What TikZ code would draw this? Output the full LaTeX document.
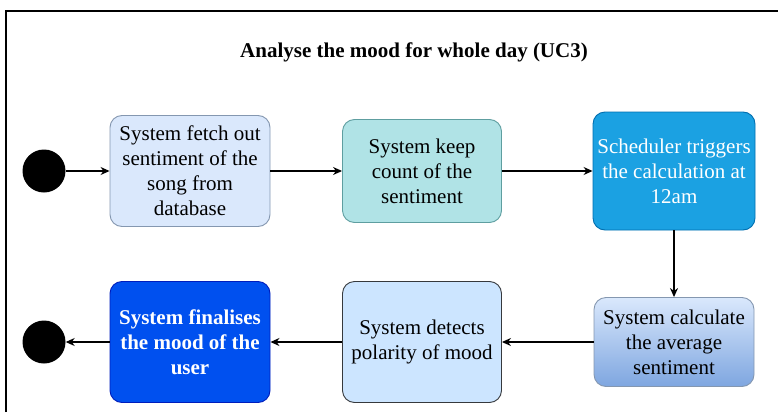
\documentclass[tikz,border=0pt]{standalone}
\usepackage{fontspec}
\setmainfont{Liberation Serif}
\usetikzlibrary{arrows.meta}

\definecolor{lblue}{HTML}{DAE8FC}
\definecolor{lbluedraw}{HTML}{8497B0}
\definecolor{teal1}{HTML}{B0E3E6}
\definecolor{teal1draw}{HTML}{5E9EA0}
\definecolor{sky}{HTML}{1BA1E2}
\definecolor{skydraw}{HTML}{006EAF}
\definecolor{grad}{HTML}{7EA6E0}
\definecolor{pale}{HTML}{CCE5FF}
\definecolor{paledraw}{HTML}{36393D}
\definecolor{royal}{HTML}{0050EF}
\definecolor{royaldraw}{HTML}{001DBC}

\begin{document}
\begin{tikzpicture}[x=1pt, y=-1pt,
  act/.style={draw, rounded corners=12pt, line width=0.9pt, align=center,
    font=\fontsize{21}{25}\selectfont, inner sep=0pt},
  dot/.style={circle, fill=black, minimum size=43pt, inner sep=0pt},
  flow/.style={line width=1.2pt, -{Stealth[length=9pt, width=8pt]}}]
\useasboundingbox (0,0) rectangle (778,412);

%frame
\draw[line width=1.5pt] (6,412) -- (6,11) -- (778,11);

%title
\node[font=\fontsize{21}{25}\selectfont\bfseries] (title) at (414,52) {Analyse the mood for whole day (UC3)};

%top row
\node[dot] (start) at (44,171) {};
\node[act, fill=lblue, draw=lbluedraw, minimum width=160pt, minimum height=111pt] (fetch) at (190,171)
  {System fetch out\\sentiment of the\\song from\\database};
\node[act, fill=teal1, draw=teal1draw, minimum width=159pt, minimum height=103pt] (count) at (422,171)
  {System keep\\count of the\\sentiment};
\node[act, fill=sky, draw=skydraw, text=white, minimum width=162pt, minimum height=118pt] (sched) at (674,171)
  {Scheduler triggers\\the calculation at\\12am};

%bottom row
\node[act, top color=lblue, bottom color=grad, draw=lbluedraw, minimum width=160pt, minimum height=89pt] (avg) at (674,342)
  {System calculate\\the average\\sentiment};
\node[act, fill=pale, draw=paledraw, minimum width=159pt, minimum height=121pt] (polar) at (422,342)
  {System detects\\polarity of mood};
\node[act, fill=royal, draw=royaldraw, text=white, font=\fontsize{21}{25}\selectfont\bfseries, minimum width=160pt, minimum height=121pt] (final) at (190,342)
  {System finalises\\the mood of the\\user};
\node[dot] (stop) at (44,342) {};

%arrows
\draw[flow] (start) -- (fetch);
\draw[flow] (fetch) -- (count);
\draw[flow] (count) -- (sched);
\draw[flow] (sched) -- (avg);
\draw[flow] (avg) -- (polar);
\draw[flow] (polar) -- (final);
\draw[flow] (final) -- (stop);

\end{tikzpicture}
\end{document}
